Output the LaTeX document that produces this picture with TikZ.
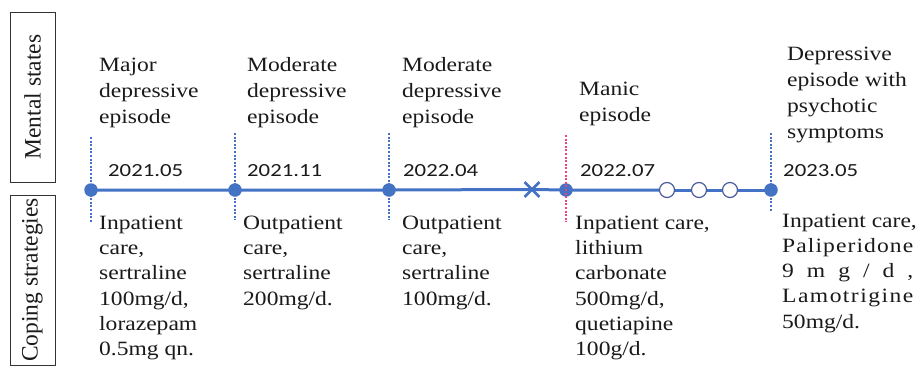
\documentclass[tikz,border=0pt]{standalone}
\usepackage{fontspec}
\setmainfont{Liberation Serif}
\newfontfamily\serifw[FakeStretch=1.16]{Liberation Serif}
\newfontfamily\datef[FakeStretch=1.23]{Carlito}
\usetikzlibrary{shapes.misc,backgrounds}
\definecolor{tlblue}{HTML}{4472C4}
\definecolor{tlred}{HTML}{EE4379}
\definecolor{circ}{HTML}{4A5A9A}
\definecolor{txt}{HTML}{1A1A1A}
\newcommand{\lns}[1]{\begin{tabular}[t]{@{}l@{}}#1\end{tabular}}
\tikzset{
  upper/.style={anchor=base west, inner sep=0pt, text=txt, font=\serifw\fontsize{20.3}{26}\selectfont},
  lower/.style={anchor=base west, inner sep=0pt, text=txt, font=\serifw\fontsize{20.3}{25.3}\selectfont},
  datelbl/.style={anchor=base west, inner sep=0pt, text=txt, font=\datef\fontsize{18.5}{22}\selectfont},
  event/.style={circle, fill=tlblue, inner sep=0pt, minimum size=13.5},
  future/.style={circle, draw=circ, fill=white, line width=1.2, inner sep=0pt, minimum size=15},
  gap/.style={cross out, draw=tlblue, line width=2.8, inner sep=0pt, minimum size=12},
  guide/.style={tlblue, line width=2, dash pattern=on 2 off 1.6},
  redguide/.style={tlred, line width=2, dash pattern=on 2 off 1.6},
  timeline/.style={tlblue, line width=3},
  side/.style={draw=black!80, line width=0.9, rotate=90, minimum width=170, minimum height=45,
    inner sep=0pt, text=txt, font=\fontsize{23.5}{27}\selectfont}
}
\begin{document}
\begin{tikzpicture}[x=1pt,y=-1pt]
\useasboundingbox (0,0) rectangle (917,372);
% side labels
\node[side] (ms) at (32.5,97) {Mental states};
\node[side] (cs) at (32.5,280) {Coping strategies};
% events
\node[event] (d1) at (91,190) {};
\node[event] (d2) at (235,190) {};
\node[event] (d3) at (389,190) {};
\node[gap]   (xm) at (532,189.5) {};
\node[event] (d4) at (566,190) {};
\node[future] (c1) at (667,190) {};
\node[future] (c2) at (699,190) {};
\node[future] (c3) at (730,190) {};
\node[event] (d5) at (771,190) {};
\begin{scope}[on background layer]
\draw[timeline] (d1.center) -- (d2.center) -- (d3.center) -- (xm.center) -- (d4.center) -- (c1);
\draw[timeline] (c1) -- (c2);
\draw[timeline] (c2) -- (c3);
\draw[timeline] (c3) -- (d5.center);
\end{scope}
% guide coordinates
\coordinate (g1t) at (91,137);  \coordinate (g1b) at (91,222);
\coordinate (g2t) at (235,133); \coordinate (g2b) at (235,220);
\coordinate (g3t) at (389,133); \coordinate (g3b) at (389,220);
\coordinate (g4t) at (566,135); \coordinate (g4b) at (566,222);
\coordinate (g5t) at (771,133); \coordinate (g5b) at (771,212);
\draw[guide] (g1t) -- (g1b);
\draw[guide] (g2t) -- (g2b);
\draw[guide] (g3t) -- (g3b);
\draw[redguide] (g4t) -- (g4b);
\draw[guide] (g5t) -- (g5b);
% dates
\node[datelbl] (t1) at (108,176.7) {2021.05};
\node[datelbl] (t2) at (247,176.7) {2021.11};
\node[datelbl] (t3) at (403,176.7) {2022.04};
\node[datelbl] (t4) at (580,176.7) {2022.07};
\node[datelbl] (t5) at (783,176.7) {2023.05};
% mental states
\node[upper] (u1) at (99,71) {\lns{Major\\depressive\\episode}};
\node[upper] (u2) at (247,71) {\lns{Moderate\\depressive\\episode}};
\node[upper] (u3) at (402,71) {\lns{Moderate\\depressive\\episode}};
\node[upper] (u4) at (579,95.5) {\lns{Manic\\episode}};
\node[upper] (u5) at (787,60) {\lns{Depressive\\episode with\\psychotic\\symptoms}};
% coping strategies
\node[lower] (l1) at (99,229.3) {\lns{Inpatient\\care,\\sertraline\\100mg/d,\\lorazepam\\0.5mg qn.}};
\node[lower] (l2) at (243,229.3) {\lns{Outpatient\\care,\\sertraline\\200mg/d.}};
\node[lower] (l3) at (402,229.3) {\lns{Outpatient\\care,\\sertraline\\100mg/d.}};
\node[lower] (l4) at (575,229.3) {\lns{Inpatient care,\\lithium\\carbonate\\500mg/d,\\quetiapine\\100g/d.}};
\node[lower] (l5) at (782,227) {\lns{Inpatient care,\\
  \makebox[131pt][s]{P\hfil a\hfil l\hfil i\hfil p\hfil e\hfil r\hfil i\hfil d\hfil o\hfil n\hfil e}\\
  \makebox[131pt][s]{9 m g / d ,}\\
  \makebox[131pt][s]{L\hfil a\hfil m\hfil o\hfil t\hfil r\hfil i\hfil g\hfil i\hfil n\hfil e}\\
  50mg/d.}};
\end{tikzpicture}
\end{document}
